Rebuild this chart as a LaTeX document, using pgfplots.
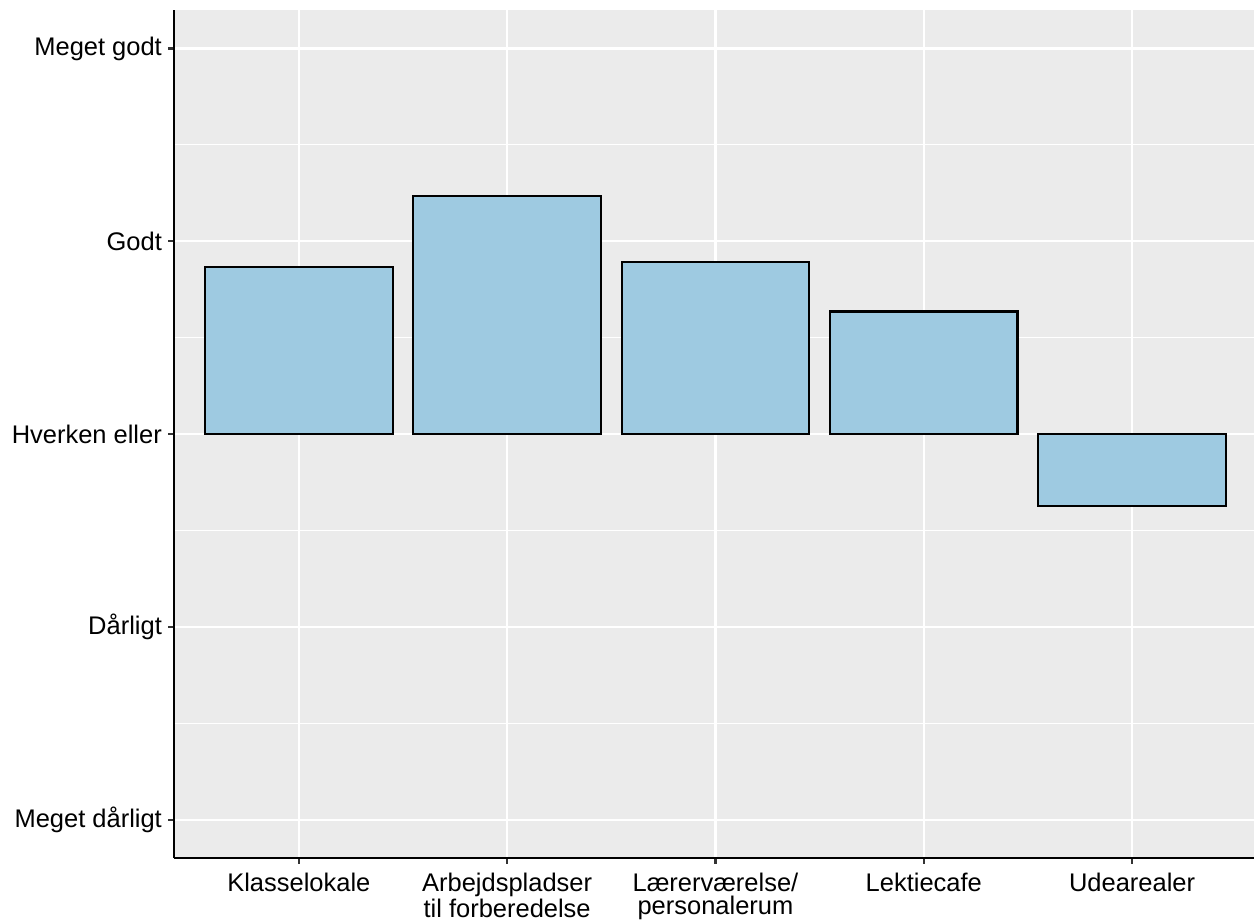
\documentclass[border=0pt]{standalone}
\usepackage{pgfplots}
\pgfplotsset{compat=1.18}
\usepackage{fontspec}
\setmainfont{Liberation Sans}
\definecolor{panelbg}{HTML}{EBEBEB}
\definecolor{barfill}{HTML}{9ECAE1}
\definecolor{tickgray}{HTML}{333333}
\begin{document}
\begin{tikzpicture}
% values shifted by -3 so that "Hverken eller" (3) is the bar base
\begin{axis}[
  scale only axis,
  width=432.4pt, height=339.6pt,
  xmin=0.4, xmax=5.585,
  ymin=-2.2, ymax=2.2,
  axis x line*=bottom, axis y line*=left,
  axis line style={black, line width=0.85pt, -},
  axis background/.style={fill=panelbg},
  xtick={1,2,3,4,5},
  xticklabels={Klasselokale, {Arbejdspladser\\til forberedelse}, {Lærerværelse/\\personalerum}, Lektiecafe, Udearealer},
  ytick={-2,-1,0,1,2},
  yticklabels={Meget dårligt, Dårligt, Hverken eller, Godt, Meget godt},
  minor ytick={-1.5,-0.5,0.5,1.5},
  grid=both,
  major grid style={white, line width=0.85pt},
  minor grid style={white, line width=0.43pt},
  tick align=outside,
  major tick length=2.2pt,
  minor tick length=0pt,
  tick style={tickgray, line width=0.85pt},
  /pgf/number format/assume math mode=true,
  ticklabel style={font=\fontsize{10.2}{9.2}\selectfont, text=black},
  xticklabel style={align=center, anchor=north, inner sep=0pt, yshift=-3.4pt},
  yticklabel style={anchor=east, inner sep=0pt, xshift=-2.4pt},
  ybar, bar width=0.9,
]
\addplot[fill=barfill, draw=black, line width=0.85pt] coordinates {
  (1,0.868) (2,1.235) (3,0.894) (4,0.636) (5,-0.372)
};
\end{axis}
\path ([xshift=-69.6pt,yshift=-26pt]current axis.south west) rectangle ([yshift=4pt]current axis.north east);
\end{tikzpicture}
\end{document}
